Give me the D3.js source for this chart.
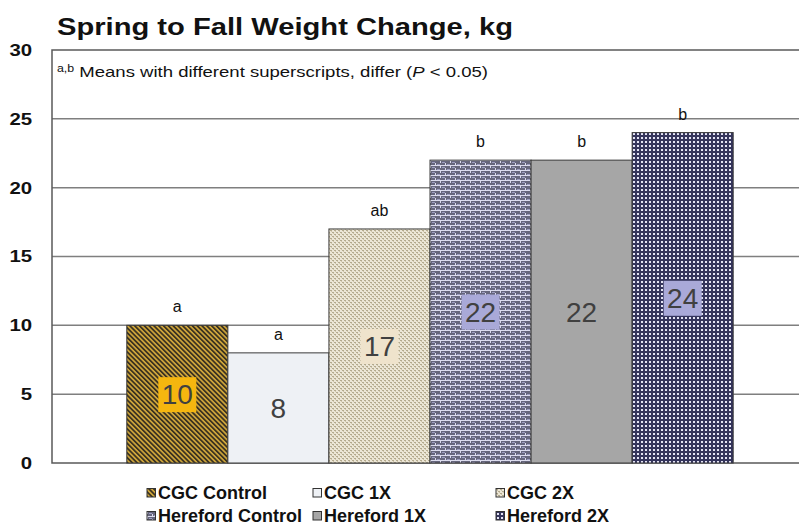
<!DOCTYPE html>
<html>
<head>
<meta charset="utf-8">
<script src="https://cdn.jsdelivr.net/npm/d3@7"></script>
<style>
  body { margin: 0; background: #fff; }
  svg { display: block; font-family: Arial, "Liberation Sans", sans-serif; }
</style>
</head>
<body>
<svg id="chart" width="799" height="529"></svg>
<script>
'use strict';

const groups = ['CGC Control', 'CGC 1X', 'CGC 2X', 'Hereford Control', 'Hereford 1X', 'Hereford 2X'];
const weightChange = [10, 8, 17, 22, 22, 24];
const letters = ['a', 'a', 'ab', 'b', 'b', 'b'];
const yTicks = [0, 5, 10, 15, 20, 25, 30];

const fills = ['url(#pStripe)', '#eef1f5', 'url(#pWeave)', 'url(#pBrick)', '#a6a6a6', 'url(#pDots)'];
const labelBg = ['#f5b60f', null, '#efe3cc', '#a9a9d8', null, '#a9a9d8'];

const svg = d3.select('#chart');
const margin = {left: 52, top: 50, bottom: 463, right: 808};

const x = d3.scaleBand()
    .domain(groups)
    .range([margin.left, margin.right])
    .paddingInner(0)
    .paddingOuter(0.74);

const y = d3.scaleLinear()
    .domain([0, 30])
    .range([margin.bottom, margin.top]);

// patterns
const defs = svg.append('defs');

const stripe = defs.append('pattern')
    .attr('id', 'pStripe')
    .attr('patternUnits', 'userSpaceOnUse')
    .attr('width', 3.4).attr('height', 3.4)
    .attr('patternTransform', 'rotate(-45)');
stripe.append('rect').attr('width', 3.4).attr('height', 3.4).attr('fill', '#d4aa3c');
stripe.append('rect').attr('width', 1.8).attr('height', 3.4).attr('fill', '#3b3220');

const weave = defs.append('pattern')
    .attr('id', 'pWeave')
    .attr('patternUnits', 'userSpaceOnUse')
    .attr('width', 4).attr('height', 4);
weave.append('rect').attr('width', 4).attr('height', 4).attr('fill', '#ece6d6');
weave.append('path').attr('d', 'M0,0h2v1h-2zM2,2h2v1h-2z').attr('fill', '#b3a98d');
weave.append('path').attr('d', 'M1,1h1v1h-1zM3,3h1v1h-1z').attr('fill', '#cfc5aa');

const brick = defs.append('pattern')
    .attr('id', 'pBrick')
    .attr('patternUnits', 'userSpaceOnUse')
    .attr('width', 10).attr('height', 5);
brick.append('rect').attr('width', 10).attr('height', 5).attr('fill', '#66667c');
brick.append('path').attr('d', 'M0,0h10v1h-10zM0,1h1v2h-1zM5,3h1v2h-1z').attr('fill', '#dcdcee');
brick.append('path').attr('d', 'M2,2h3v1h-3zM7,4h3v1h-3z').attr('fill', '#9c9cc0');

const dots = defs.append('pattern')
    .attr('id', 'pDots')
    .attr('patternUnits', 'userSpaceOnUse')
    .attr('width', 4).attr('height', 4);
dots.append('rect').attr('width', 4).attr('height', 4).attr('fill', '#35355c');
dots.append('rect').attr('x', 1).attr('y', 1).attr('width', 2).attr('height', 2).attr('fill', '#e4e4f4');

// title
svg.append('text')
    .attr('x', 57).attr('y', 35)
    .attr('font-size', 23).attr('font-weight', 'bold')
    .attr('fill', '#111')
    .attr('textLength', 456).attr('lengthAdjust', 'spacingAndGlyphs')
    .text('Spring to Fall Weight Change, kg');

// grid
svg.append('g')
    .selectAll('line')
    .data(yTicks.filter(function(d) { return d > 0 && d < 30; }))
    .join('line')
    .attr('x1', margin.left).attr('x2', margin.right)
    .attr('y1', function(d) { return y(d); })
    .attr('y2', function(d) { return y(d); })
    .attr('stroke', '#7f7f7f').attr('stroke-width', 1.5);

// frame
svg.append('path')
    .attr('d', 'M' + margin.right + ',' + y(30) + 'H' + margin.left + 'V' + y(0) + 'H' + margin.right)
    .attr('fill', 'none').attr('stroke', '#595959').attr('stroke-width', 1.5);

// y axis labels
const yAxis = d3.axisLeft(y).tickValues(yTicks).tickSize(0).tickPadding(16.5);
svg.append('g')
    .attr('transform', 'translate(' + margin.left + ',0)')
    .call(yAxis)
    .call(function(g) { g.select('.domain').remove(); })
    .selectAll('text')
    .attr('transform', 'scale(1.2,1)')
    .attr('font-size', 17).attr('font-weight', 'bold')
    .attr('font-family', 'Arial, "Liberation Sans", sans-serif')
    .attr('fill', '#111');

// note
const note = svg.append('text')
    .attr('x', 57).attr('y', 77)
    .attr('font-size', 15).attr('fill', '#111')
    .attr('textLength', 431).attr('lengthAdjust', 'spacingAndGlyphs');
note.append('tspan').attr('font-size', 10).attr('dy', -5).text('a,b');
note.append('tspan').attr('dy', 5).text(' Means with different superscripts, differ (');
note.append('tspan').attr('font-style', 'italic').text('P');
note.append('tspan').text(' < 0.05)');

// bars
svg.append('g')
    .selectAll('rect')
    .data(groups)
    .join('rect')
    .attr('x', function(d) { return x(d); })
    .attr('width', x.bandwidth())
    .attr('y', function(d, i) { return y(weightChange[i]); })
    .attr('height', function(d, i) { return y(0) - y(weightChange[i]); })
    .attr('fill', function(d, i) { return fills[i]; })
    .attr('stroke', '#3a3a3a').attr('stroke-width', 1);

// value labels
const vl = svg.append('g')
    .selectAll('g')
    .data(groups)
    .join('g')
    .attr('transform', function(d, i) {
        return 'translate(' + (x(d) + x.bandwidth() / 2) + ',' + ((y(0) + y(weightChange[i])) / 2) + ')';
    });
vl.filter(function(d, i) { return labelBg[i] !== null; })
    .append('rect')
    .attr('x', -19).attr('y', -17).attr('width', 38).attr('height', 35)
    .attr('fill', function(d) { return labelBg[groups.indexOf(d)]; });
vl.append('text')
    .attr('text-anchor', 'middle')
    .attr('dy', '0.36em')
    .attr('font-size', 28).attr('fill', '#404040')
    .text(function(d, i) { return weightChange[i]; });

// letters
svg.append('g')
    .selectAll('text')
    .data(groups)
    .join('text')
    .attr('x', function(d) { return x(d) + x.bandwidth() / 2; })
    .attr('y', function(d, i) { return y(weightChange[i]) - 13; })
    .attr('text-anchor', 'middle')
    .attr('font-size', 16).attr('fill', '#111')
    .text(function(d, i) { return letters[i]; });

// legend
const legendCols = [147, 313, 496];
const legendRows = [493, 516];
const lg = svg.append('g')
    .selectAll('g')
    .data(groups)
    .join('g')
    .attr('transform', function(d, i) {
        return 'translate(' + legendCols[i % 3] + ',' + legendRows[Math.floor(i / 3)] + ')';
    });
lg.append('rect')
    .attr('x', 0).attr('y', -4.5).attr('width', 8.5).attr('height', 8.5)
    .attr('fill', function(d, i) { return fills[i]; })
    .attr('stroke', '#333').attr('stroke-width', 1);
lg.append('text')
    .attr('x', 11).attr('dy', '0.36em')
    .attr('font-size', 18).attr('font-weight', 'bold').attr('fill', '#111')
    .text(function(d) { return d; });
</script>
</body>
</html>
